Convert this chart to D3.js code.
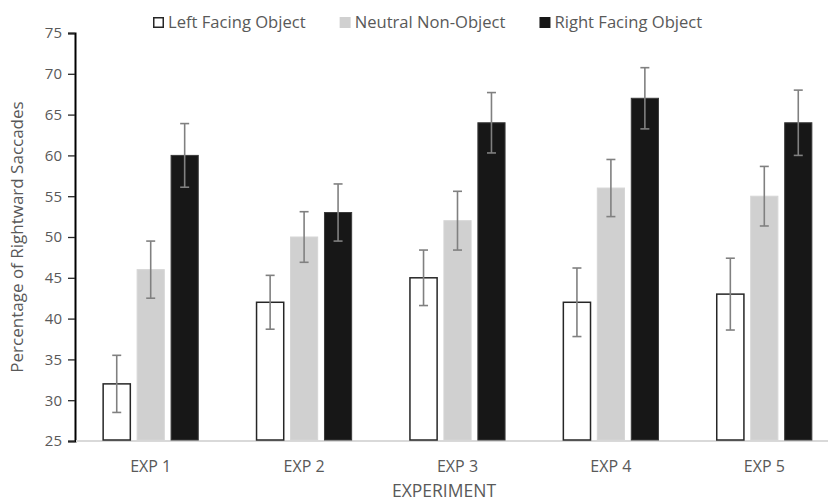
<!DOCTYPE html>
<html>
<head>
<meta charset="utf-8">
<script src="https://d3js.org/d3.v7.min.js"></script>
<style>
	body { margin: 0; background: #fff; }
	text { font-family: "Open Sans", sans-serif; fill: #595959; }
</style>
</head>
<body>
<svg id="chart" width="828" height="503"></svg>
<script>
var experiments = ['EXP 1', 'EXP 2', 'EXP 3', 'EXP 4', 'EXP 5'];
var conditions = ['Left Facing Object', 'Neutral Non-Object', 'Right Facing Object'];
var leftFacing = [32, 42, 45, 42, 43];
var neutral = [46, 50, 52, 56, 55];
var rightFacing = [60, 53, 64, 67, 64];
var leftErr = [3.5, 3.3, 3.4, 4.2, 4.4];
var neutralErr = [3.5, 3.1, 3.6, 3.5, 3.65];
var rightErr = [3.9, 3.5, 3.7, 3.75, 4.0];
var yTicks = [25, 30, 35, 40, 45, 50, 55, 60, 65, 70, 75];

var fills = ['#ffffff', '#d0d0d0', '#171717'];
var strokes = ['#262626', '#d6d6d6', '#3a3a3a'];

var svg = d3.select('#chart');

var series = [leftFacing, neutral, rightFacing];
var errs = [leftErr, neutralErr, rightErr];
var rows = [];
experiments.forEach(function (e, i) {
	conditions.forEach(function (c, j) {
		rows.push({exp: e, cond: c, k: j, value: series[j][i], err: errs[j][i]});
	});
});

var x0 = d3.scaleBand().domain(experiments).range([74, 841]).paddingInner(0.38).paddingOuter(0.19);
var x1 = d3.scaleBand().domain(conditions).range([0, x0.bandwidth()]).paddingInner(0.2);
var y = d3.scaleLinear().domain([25, 75]).range([441, 33]);

// y axis
var yAxis = svg.append('g')
	.attr('transform', 'translate(75,0)')
	.call(d3.axisLeft(y).tickValues(yTicks).tickSize(7).tickPadding(6));
yAxis.select('.domain').attr('stroke', '#000').attr('stroke-width', 2);
yAxis.selectAll('.tick line').attr('stroke', '#262626').attr('stroke-width', 1.3);
yAxis.selectAll('.tick text').style('font-size', '15px').attr('fill', '#595959').style('font-family', '"Open Sans", sans-serif');

// baseline
svg.append('line')
	.attr('x1', 76).attr('x2', 828)
	.attr('y1', y(25)).attr('y2', y(25))
	.attr('stroke', '#d9d9d9').attr('stroke-width', 2);

// bars
var groups = svg.append('g').selectAll('g')
	.data(experiments)
	.enter().append('g')
	.attr('transform', function (d) { return 'translate(' + x0(d) + ',0)'; });

groups.selectAll('rect')
	.data(function (d) { return rows.filter(function (r) { return r.exp == d; }); })
	.enter().append('rect')
	.attr('x', function (d) { return x1(d.cond); })
	.attr('y', function (d) { return y(d.value); })
	.attr('width', x1.bandwidth())
	.attr('height', function (d) { return y(25) - y(d.value) - 1; })
	.attr('fill', function (d) { return fills[d.k]; })
	.attr('stroke', function (d) { return strokes[d.k]; })
	.attr('stroke-width', function (d) { return d.k == 0 ? 1.5 : 1; });

// error bars
var eb = groups.selectAll('g.err')
	.data(function (d) { return rows.filter(function (r) { return r.exp == d; }); })
	.enter().append('g')
	.attr('class', 'err')
	.attr('stroke', '#808080')
	.attr('stroke-width', 1.6);

eb.append('line')
	.attr('x1', function (d) { return x1(d.cond) + x1.bandwidth() / 2; })
	.attr('x2', function (d) { return x1(d.cond) + x1.bandwidth() / 2; })
	.attr('y1', function (d) { return y(d.value + d.err); })
	.attr('y2', function (d) { return y(d.value - d.err); });
[1, -1].forEach(function (s) {
	eb.append('line')
		.attr('x1', function (d) { return x1(d.cond) + x1.bandwidth() / 2 - 4.5; })
		.attr('x2', function (d) { return x1(d.cond) + x1.bandwidth() / 2 + 4.5; })
		.attr('y1', function (d) { return y(d.value + s * d.err); })
		.attr('y2', function (d) { return y(d.value + s * d.err); });
});

// x labels
svg.append('g').selectAll('text')
	.data(experiments)
	.enter().append('text')
	.attr('x', function (d) { return x0(d) + x0.bandwidth() / 2; })
	.attr('y', 472)
	.attr('text-anchor', 'middle')
	.style('font-size', '16px')
	.text(function (d) { return d; });

svg.append('text')
	.attr('x', 444)
	.attr('y', 497)
	.attr('text-anchor', 'middle')
	.style('font-size', '17.5px')
	.text('EXPERIMENT');

svg.append('text')
	.attr('transform', 'translate(23,237) rotate(-90)')
	.attr('text-anchor', 'middle')
	.style('font-size', '17px')
	.text('Percentage of Rightward Saccades');

// legend
var legend = svg.append('g');
var lx = 153;
conditions.forEach(function (c, j) {
	legend.append('rect')
		.attr('x', lx + 0.75).attr('y', 17.75)
		.attr('width', 9.5).attr('height', 9.5)
		.attr('fill', fills[j])
		.attr('stroke', j == 0 ? '#262626' : fills[j])
		.attr('stroke-width', 1.5);
	var t = legend.append('text')
		.attr('x', lx + 15).attr('y', 28)
		.style('font-size', '16.6px')
		.text(c);
	lx = lx + 15 + t.node().getComputedTextLength() + 34;
});
</script>
</body>
</html>
